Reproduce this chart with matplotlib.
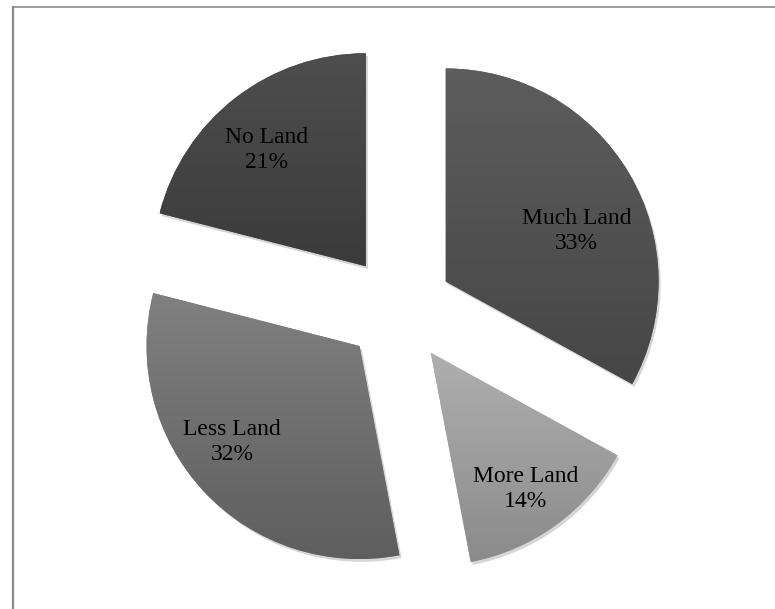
import matplotlib
matplotlib.use('Agg')
import matplotlib.pyplot as plt
import numpy as np
from matplotlib.colors import LinearSegmentedColormap
from matplotlib.lines import Line2D
import matplotlib.patheffects as pe

labels = ['Much Land', 'More Land', 'Less Land', 'No Land']
shares = [33, 14, 32, 21]

# top / bottom of each slice's vertical gradient
top_colors = ['#5d5d5d', '#afafaf', '#808080', '#4e4e4e']
bottom_colors = ['#464646', '#8b8b8b', '#5e5e5e', '#3b3b3b']
# where the label sits inside each slice (fraction of radius, angle nudge in deg)
label_dist = [0.66, 0.78, 0.75, 0.72]
label_nudge = [-9.6, -1.3, -6.1, 2.7]

fig = plt.figure(figsize=(7.75, 6.09), dpi=100)
ax = fig.add_axes([0, 0, 1, 1])

wedges, _ = ax.pie(shares, startangle=90, counterclock=False,
                   explode=[0.254] * len(shares), colors=top_colors,
                   wedgeprops=dict(linewidth=0))

for i, w in enumerate(wedges):
    w.set_path_effects([pe.SimplePatchShadow(offset=(1.5, -2), shadow_rgbFace='#888888', alpha=0.35),
                        pe.Normal()])
    verts = w.get_path().vertices
    x0, x1 = verts[:, 0].min(), verts[:, 0].max()
    y0, y1 = verts[:, 1].min(), verts[:, 1].max()
    cmap = LinearSegmentedColormap.from_list('g%d' % i, [top_colors[i], bottom_colors[i]])
    grad = np.linspace(0, 1, 256).reshape(-1, 1)
    im = ax.imshow(grad, extent=[x0, x1, y0, y1], cmap=cmap, aspect='auto',
                   origin='upper', zorder=w.get_zorder() + 0.1)
    im.set_clip_path(w)

    ang = np.deg2rad((w.theta1 + w.theta2) / 2 + label_nudge[i])
    cx, cy = w.center
    ax.text(cx + label_dist[i] * np.cos(ang), cy + label_dist[i] * np.sin(ang),
            '%s\n%d%%' % (labels[i], shares[i]), ha='center', va='center',
            fontsize=17, family='Liberation Serif', color='black',
            linespacing=1.25, zorder=5)

r_px = 213.0
cxp, cyp = 399.0, 309.0
ax.set_xlim(-cxp / r_px, (775 - cxp) / r_px)
ax.set_ylim(-(609 - cyp) / r_px, cyp / r_px)
ax.set_aspect('auto')
ax.axis('off')

# frame edges visible in the crop: top and left only
fig.add_artist(Line2D([12.5 / 775, 1], [1 - 6.5 / 609] * 2, transform=fig.transFigure,
                      color='#8c8c8c', linewidth=1.2))
fig.add_artist(Line2D([12.5 / 775] * 2, [0, 1 - 6.5 / 609], transform=fig.transFigure,
                      color='#8c8c8c', linewidth=1.6))

fig.savefig('out.png', dpi=100)
